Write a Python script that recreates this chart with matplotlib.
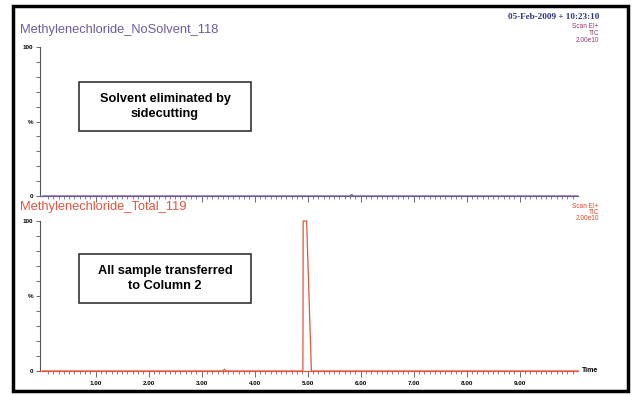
import numpy as np
import matplotlib.pyplot as plt
from matplotlib.patches import Rectangle

# trace data (retention time in min, relative abundance %)
t_top = [0.0, 5.80, 5.83, 5.86, 10.1]
y_top = [0.0, 0.0, 1.0, 0.0, 0.0]
t_bot = [0.0, 3.40, 3.43, 3.46, 4.91, 4.915, 4.98, 5.07, 10.1]
y_bot = [0.0, 0.0, 1.2, 0.0, 0.0, 100.0, 100.0, 0.0, 0.0]

names = ['Methylenechloride_NoSolvent_118', 'Methylenechloride_Total_119']
notes = ['Solvent eliminated by\nsidecutting', 'All sample transferred\nto Column 2']
header = ['Scan EI+', 'TIC', '2.00e10']
stamp = '05-Feb-2009 + 10:23:10'
xticks = [1, 2, 3, 4, 5, 6, 7, 8, 9]

W, H = 634, 395
plt.rcParams['font.family'] = ['Liberation Sans', 'DejaVu Sans']
fig = plt.figure(figsize=(W / 100, H / 100), dpi=100)

def fx(px):
    return px / W

def fy(py):
    return 1 - py / H

colors = ['#6f5a9a', '#e2553d']
hdr_colors = ['#8a3a70', '#e2452a']
panels = [(47, 196), (221, 371)]
traces = [(t_top, y_top), (t_bot, y_bot)]
title_y = [30, 207]
hdr_y = [27, 206]
box_y = [(82, 131), (254, 303)]

for i in range(2):
    top, bot = panels[i]
    ax = fig.add_axes([fx(40), fy(bot), fx(578) - fx(40), (bot - top) / H])
    t, y = traces[i]
    ax.plot(t, y, color=colors[i], lw=0.9, clip_on=False, zorder=3)
    ax.set_xlim(-0.05, 10.1)
    ax.set_ylim(0, 100)
    ax.patch.set_alpha(0)
    for s in ['top', 'right']:
        ax.spines[s].set_visible(False)
    ax.spines['left'].set_color('#555555')
    ax.spines['left'].set_linewidth(0.8)
    ax.spines['bottom'].set_color(colors[i])
    ax.spines['bottom'].set_linewidth(0.9)
    ax.set_yticks(np.arange(0, 101, 10))
    ax.set_yticklabels(['0', '', '', '', '', '%', '', '', '', '', '100'])
    ax.tick_params(axis='y', length=3, width=0.6, color='#555555',
                   labelsize=4.5, pad=2)
    for lb in ax.get_yticklabels():
        lb.set_fontweight('bold')
    ax.set_xticks(xticks)
    ax.set_xticks(np.arange(0.1, 10.05, 0.1), minor=True)
    ax.tick_params(axis='x', which='major', length=4, width=0.6,
                   color='#555555', labelsize=4.5, pad=3)
    ax.tick_params(axis='x', which='minor', length=2, width=0.5,
                   color='#555555')
    if i == 0:
        ax.set_xticklabels([])
    else:
        ax.set_xticklabels(['%.2f' % v for v in xticks])
        for lb in ax.get_xticklabels():
            lb.set_fontweight('bold')
        fig.text(fx(582), fy(371), 'Time', fontsize=5, fontweight='bold',
                 ha='left', va='center')

    fig.text(fx(20), fy(title_y[i]), names[i], fontsize=9.3,
             color=colors[i], ha='left', va='center')
    for k, s in enumerate(header):
        fig.text(fx(599), fy(hdr_y[i] + 6.5 * k), s, fontsize=4.7,
                 color=hdr_colors[i], ha='right', va='center')

    b0, b1 = box_y[i]
    fig.patches.append(Rectangle((fx(79), fy(b1)), fx(251) - fx(79),
                                 (b1 - b0) / H, transform=fig.transFigure,
                                 fill=False, ec='#333333', lw=1.2))
    fig.text(fx(165), fy((b0 + b1) / 2), notes[i], fontsize=9.2,
             fontweight='bold', ha='center', va='center', linespacing=1.3)

fig.text(fx(599), fy(17), stamp, fontsize=6.6, fontweight='bold',
         family='Liberation Serif', color='#2f3580', ha='right', va='center')

fig.patches.append(Rectangle((fx(13), fy(391)), fx(628) - fx(13),
                             (391 - 6) / H, transform=fig.transFigure,
                             fill=False, ec='black', lw=2.5))

fig.savefig('out.png', dpi=100)
